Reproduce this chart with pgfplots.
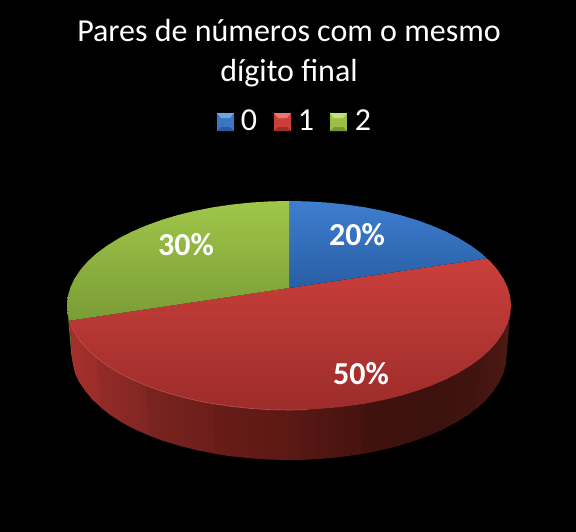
\documentclass[border=0pt]{standalone}
\usepackage{pgfplots}
\pgfplotsset{compat=1.18}
\usepackage{fontspec}
\setmainfont{Carlito}
\definecolor{s0}{HTML}{A5302C}
\definecolor{s1}{HTML}{942B28}
\definecolor{s2}{HTML}{7A2421}
\definecolor{s3}{HTML}{681C18}
\definecolor{s4}{HTML}{5A1814}
\definecolor{s5}{HTML}{40120E}
\definecolor{s6}{HTML}{3C120E}
\definecolor{s7}{HTML}{421410}
\definecolor{s8}{HTML}{4E1A14}
\definecolor{sliver}{HTML}{55702A}
\definecolor{redtop}{HTML}{CB3F3B}
\definecolor{redbot}{HTML}{9C2C2A}
\definecolor{rim}{HTML}{BE504C}
\definecolor{bluetop}{HTML}{3E7ED0}
\definecolor{bluebot}{HTML}{285EA4}
\definecolor{greentop}{HTML}{A0C64A}
\definecolor{greenbot}{HTML}{7A9C36}
\definecolor{bmid}{HTML}{3A76C2}
\definecolor{blight}{HTML}{6EA5E4}
\definecolor{bdark}{HTML}{2A5A9C}
\definecolor{rmid}{HTML}{CC3E3A}
\definecolor{rlight}{HTML}{E87672}
\definecolor{rdark}{HTML}{A02C2A}
\definecolor{gmid}{HTML}{9AC048}
\definecolor{glight}{HTML}{C4DE7C}
\definecolor{gdark}{HTML}{789834}
\begin{document}
\begin{tikzpicture}
\begin{axis}[
  scale only axis, width=432pt, height=399pt,
  xmin=0, xmax=576, ymin=0, ymax=532, y dir=reverse,
  ticks=none, axis line style={draw=none},
  axis background/.style={fill=black},
  no markers, clip=true,
]
% green sliver
\addplot[draw=none, fill=sliver, forget plot] coordinates {(67,305.5)(67.8,314.6)(69.4,320.7)(73,362)(71.4,355.5)};
% side strips
\addplot[draw=none, left color=s0, right color=s1, forget plot] coordinates {(69.4,320.7)(70.4,323.6)(74.6,332.5)(80.4,341.2)(87.8,349.7)(96.7,357.75)(107.1,365.4)(111,415.4)(101.5,407.75)(92.5,399.7)(85.5,391.2)(79.5,382.5)(75,373.6)(72.5,362)};
\addplot[draw=none, left color=s1, right color=s2, forget plot] coordinates {(96.7,357.75)(107.1,365.4)(118.9,372.7)(132,379.4)(146.3,385.5)(161.7,391.1)(164.2,441.1)(149.2,435.5)(135.1,429.4)(122.3,422.7)(111,415.4)(101.5,407.75)};
\addplot[draw=none, left color=s2, right color=s3, forget plot] coordinates {(146.3,385.5)(161.7,391.1)(178,396)(195.2,400.2)(213.1,403.7)(231.5,406.4)(232.6,456.4)(214.6,453.7)(197.1,450.2)(180.2,446)(164.2,441.1)(149.2,435.5)};
\addplot[draw=none, left color=s3, right color=s4, forget plot] coordinates {(213.1,403.7)(231.5,406.4)(250.5,408.4)(269.6,409.6)(289,410)(308.4,409.6)(308,459.6)(289,460)(270,459.6)(251.3,458.4)(232.6,456.4)(214.6,453.7)};
\addplot[draw=none, left color=s4, right color=s5, forget plot] coordinates {(289,410)(308.4,409.6)(327.5,408.4)(346.5,406.4)(364.9,403.7)(382.8,400.2)(380.9,450.2)(363.4,453.7)(345.4,456.4)(326.7,458.4)(308,459.6)(289,460)};
\addplot[draw=none, left color=s5, right color=s6, forget plot] coordinates {(364.9,403.7)(382.8,400.2)(400,396)(416.3,391.1)(431.7,385.5)(446,379.4)(442.9,429.4)(428.8,435.5)(413.8,441.1)(397.8,446)(380.9,450.2)(363.4,453.7)};
\addplot[draw=none, left color=s6, right color=s7, forget plot] coordinates {(431.7,385.5)(446,379.4)(459.1,372.7)(470.9,365.4)(481.3,357.75)(490.2,349.7)(486.2,399.7)(477.5,407.75)(467.3,415.4)(455.7,422.7)(442.9,429.4)(428.8,435.5)};
\addplot[draw=none, left color=s7, right color=s8, forget plot] coordinates {(481.3,357.75)(490.2,349.7)(497.6,341.2)(503.4,332.5)(507.6,323.6)(510.2,314.6)(511,305.5)(506.6,355.5)(505.8,364.6)(503.2,373.6)(499.1,382.5)(493.4,391.2)(486.2,399.7)(477.5,407.75)};
% red top
\addplot[draw=none, top color=redtop, bottom color=redbot, forget plot] coordinates {(289,288)(486.7,258.3)(490.2,261.3)(497.6,269.8)(503.4,278.5)(507.6,287.4)(510.2,296.4)(511,305.5)(510.2,314.6)(507.6,323.6)(503.4,332.5)(497.6,341.2)(490.2,349.7)(481.3,357.75)(470.9,365.4)(459.1,372.7)(446,379.4)(431.7,385.5)(416.3,391.1)(400,396)(382.8,400.2)(364.9,403.7)(346.5,406.4)(327.5,408.4)(308.4,409.6)(289,410)(269.6,409.6)(250.5,408.4)(231.5,406.4)(213.1,403.7)(195.2,400.2)(178,396)(161.7,391.1)(146.3,385.5)(132,379.4)(118.9,372.7)(107.1,365.4)(96.7,357.75)(87.8,349.7)(80.4,341.2)(74.6,332.5)(70.4,323.6)(69.4,320.7)};
% rim
\addplot[draw=rim, line width=0.5pt, forget plot] coordinates {(308.4,409.6)(289,410)(269.6,409.6)(250.5,408.4)(231.5,406.4)(213.1,403.7)(195.2,400.2)(178,396)(161.7,391.1)(146.3,385.5)(132,379.4)(118.9,372.7)(107.1,365.4)(96.7,357.75)(87.8,349.7)(80.4,341.2)(74.6,332.5)(70.4,323.6)(69.4,320.7)};
% blue top
\addplot[draw=none, top color=bluetop, bottom color=bluebot, forget plot] coordinates {(289,288)(289,201)(308.4,201.4)(327.5,202.6)(346.5,204.6)(364.9,207.3)(382.8,210.8)(400,215)(416.3,219.9)(431.7,225.5)(446,231.6)(459.1,238.3)(470.9,245.6)(481.3,253.25)(486.7,258.3)};
% green top
\addplot[draw=none, top color=greentop, bottom color=greenbot, forget plot] coordinates {(289,288)(69.4,320.7)(67.8,314.6)(67,305.5)(67.8,296.4)(70.4,287.4)(74.6,278.5)(80.4,269.8)(87.8,261.3)(96.7,253.25)(107.1,245.6)(118.9,238.3)(132,231.6)(146.3,225.5)(161.7,219.9)(178,215)(195.2,210.8)(213.1,207.3)(231.5,204.6)(250.5,202.6)(269.6,201.4)(289,201)};
% legend keys
\addplot[draw=none, fill=bmid, forget plot] coordinates {(217,113)(234,113)(234,131)(217,131)};
\addplot[draw=none, fill=blight, forget plot] coordinates {(217,113)(234,113)(230,118)(221,118)};
\addplot[draw=none, fill=bdark, forget plot] coordinates {(217,131)(234,131)(230,127)(221,127)};
\addplot[draw=none, fill=rmid, forget plot] coordinates {(274,113)(291,113)(291,131)(274,131)};
\addplot[draw=none, fill=rlight, forget plot] coordinates {(274,113)(291,113)(287,118)(278,118)};
\addplot[draw=none, fill=rdark, forget plot] coordinates {(274,131)(291,131)(287,127)(278,127)};
\addplot[draw=none, fill=gmid, forget plot] coordinates {(330,113)(347,113)(347,131)(330,131)};
\addplot[draw=none, fill=glight, forget plot] coordinates {(330,113)(347,113)(343,118)(334,118)};
\addplot[draw=none, fill=gdark, forget plot] coordinates {(330,131)(347,131)(343,127)(334,127)};
% text
\node[text=white, font=\fontsize{24}{28}\selectfont, anchor=base] at (axis cs:289,41) {Pares de números com o mesmo};
\node[text=white, font=\fontsize{24}{28}\selectfont, anchor=base] at (axis cs:289,81) {dígito final};
\node[text=white, font=\fontsize{24}{28}\selectfont, anchor=base] at (axis cs:249,130) {0};
\node[text=white, font=\fontsize{24}{28}\selectfont, anchor=base] at (axis cs:306,130) {1};
\node[text=white, font=\fontsize{24}{28}\selectfont, anchor=base] at (axis cs:363,130) {2};
\node[text=white, font=\fontsize{24}{28}\bfseries\selectfont] at (axis cs:357,235) {20\%};
\node[text=white, font=\fontsize{24}{28}\bfseries\selectfont] at (axis cs:361,374) {50\%};
\node[text=white, font=\fontsize{24}{28}\bfseries\selectfont] at (axis cs:186,245) {30\%};
\end{axis}
\end{tikzpicture}
\end{document}
